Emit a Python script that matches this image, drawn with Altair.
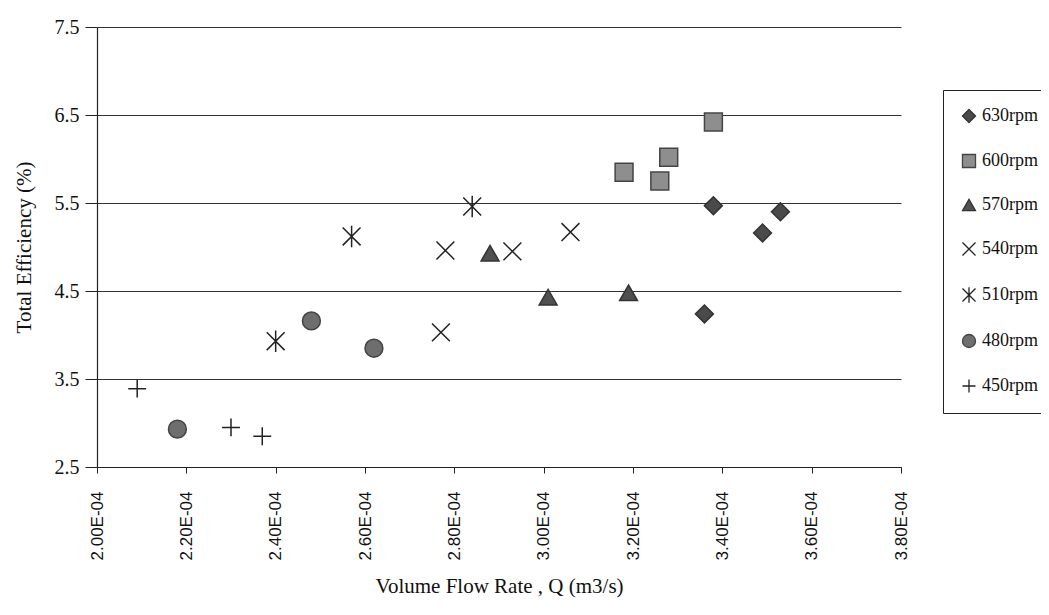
import altair as alt
import pandas as pd

series_order = ["630rpm", "600rpm", "570rpm", "540rpm", "510rpm", "480rpm", "450rpm"]

q_630 = [3.38e-4, 3.49e-4, 3.53e-4, 3.36e-4]
e_630 = [5.47, 5.16, 5.40, 4.24]
q_600 = [3.38e-4, 3.28e-4, 3.18e-4, 3.26e-4]
e_600 = [6.42, 6.02, 5.85, 5.75]
q_570 = [2.88e-4, 3.01e-4, 3.19e-4]
e_570 = [4.93, 4.43, 4.48]
q_540 = [2.78e-4, 2.93e-4, 3.06e-4, 2.77e-4]
e_540 = [4.96, 4.95, 5.17, 4.03]
q_510 = [2.84e-4, 2.57e-4, 2.40e-4]
e_510 = [5.46, 5.12, 3.93]
q_480 = [2.48e-4, 2.62e-4, 2.18e-4]
e_480 = [4.16, 3.85, 2.93]
q_450 = [2.09e-4, 2.30e-4, 2.37e-4]
e_450 = [3.39, 2.95, 2.85]

x_ticks = [2.0e-4, 2.2e-4, 2.4e-4, 2.6e-4, 2.8e-4, 3.0e-4, 3.2e-4, 3.4e-4, 3.6e-4, 3.8e-4]
y_ticks = [2.5, 3.5, 4.5, 5.5, 6.5, 7.5]

rows = []
for name, qs, es in [
    ("630rpm", q_630, e_630), ("600rpm", q_600, e_600), ("570rpm", q_570, e_570),
    ("540rpm", q_540, e_540), ("510rpm", q_510, e_510), ("480rpm", q_480, e_480),
    ("450rpm", q_450, e_450),
]:
    for q, e in zip(qs, es):
        rows.append({"Q": q, "Eff": e, "Speed": name})
df = pd.DataFrame(rows)

X_PATH = "M-1,-1L1,1M-1,1L1,-1"
AST_PATH = "M-1,-1L1,1M-1,1L1,-1M0,-1.2L0,1.2"
PLUS_PATH = "M-1,0L1,0M0,-1L0,1"

shapes = ["diamond", "square", "triangle-up", X_PATH, AST_PATH, "circle", PLUS_PATH]
fills = ["#4a4a4a", "#8e8e8e", "#505050", "transparent", "transparent", "#6e6e6e", "transparent"]
strokes = ["#333333", "#444444", "#333333", "#222222", "#222222", "#444444", "#222222"]

FONT = "Liberation Serif"
legend = alt.Legend(
    title=None, orient="none", legendX=846, legendY=63,
    strokeColor="#222222", fillColor="white", padding=17,
    labelFont=FONT, labelFontSize=18, labelColor="#111111",
    symbolSize=170, symbolStrokeWidth=1.3, rowPadding=25, labelOffset=4,
)

chart = alt.Chart(df).mark_point(size=320, strokeWidth=1.5, opacity=1).encode(
    x=alt.X("Q:Q", title="Volume Flow Rate , Q (m3/s)",
            scale=alt.Scale(domain=[2.0e-4, 3.8e-4], nice=False, zero=False),
            axis=alt.Axis(values=x_ticks, labelAngle=270, grid=False,
                          labelExpr="format(datum.value*10000, '.2f') + 'E-04'",
                          labelFont="Liberation Sans", labelFontSize=17,
                          tickSize=6, labelPadding=18, titlePadding=16)),
    y=alt.Y("Eff:Q", title="Total Efficiency (%)",
            scale=alt.Scale(domain=[2.5, 7.5], nice=False, zero=False),
            axis=alt.Axis(values=y_ticks, format=".1f", grid=True,
                          labelFontSize=20,
                          tickSize=12, labelPadding=6, titlePadding=20)),
    shape=alt.Shape("Speed:N", scale=alt.Scale(domain=series_order, range=shapes), legend=legend),
    fill=alt.Fill("Speed:N", scale=alt.Scale(domain=series_order, range=fills), legend=legend),
    stroke=alt.Stroke("Speed:N", scale=alt.Scale(domain=series_order, range=strokes), legend=legend),
).properties(
    width=804, height=440,
    autosize=alt.AutoSizeParams(type="none"),
    padding={"left": 89, "top": 19, "right": 140, "bottom": 140},
).configure_view(stroke=None).configure_axis(
    labelFont=FONT, titleFont=FONT, titleFontSize=21,
    labelColor="#111111", titleColor="#111111", titleFontWeight="normal",
    domainColor="#222222", tickColor="#222222", gridColor="#333333",
    gridWidth=1, domainWidth=1.2,
)

chart.save("out.html", embed_options={"renderer": "svg", "actions": False})
